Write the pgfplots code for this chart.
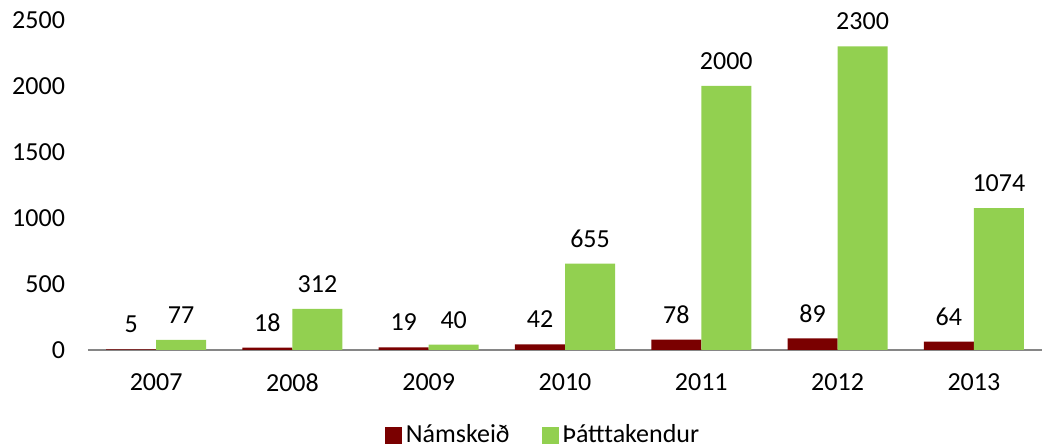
\documentclass[border=0pt]{standalone}
\usepackage{pgfplots}
\pgfplotsset{compat=1.18}
\usepackage{fontspec}
\setmainfont{Carlito}
\definecolor{cRed}{HTML}{7A0000}
\definecolor{cGreen}{HTML}{92D050}
\definecolor{cAxis}{HTML}{868686}
\begin{document}
\fontsize{13pt}{15pt}\selectfont
\begin{tikzpicture}
\useasboundingbox (-44pt,-49pt) rectangle (477pt,175pt);
\begin{axis}[
  at={(0,0)}, anchor=south west,
  scale only axis,
  width=477pt, height=165pt,
  xmin=-0.5, xmax=6.5,
  ymin=0, ymax=2500,
  ytick={0,500,...,2500},
  xtick={0,...,6},
  xticklabels={2007,2008,2009,2010,2011,2012,2013},
  axis x line*=bottom,
  axis y line*=left,
  axis line style={-},
  x axis line style={draw=cAxis, line width=1pt},
  y axis line style={draw=none},
  tick style={draw=none},
  /pgf/number format/assume math mode=true,
  /pgf/number format/1000 sep={},
  yticklabel style={anchor=east, xshift=-7pt},
  xticklabel style={anchor=center, yshift=-12pt},
  ybar, bar width=0.367,
  nodes near coords,
  nodes near coords style={anchor=center, yshift=12.5pt, font=\fontsize{13pt}{15pt}\selectfont},
  every node near coord/.append style={/pgf/number format/1000 sep={}, /pgf/number format/assume math mode=true},
  legend style={at={(0.478,-0.2576)}, anchor=center, draw=none, legend columns=2,
    /tikz/every even column/.append style={column sep=14pt}, font=\fontsize{13pt}{15pt}\selectfont},
  legend cell align=left,
]
\addplot[fill=cRed, draw=none, bar shift=-0.1835, legend image code/.code={\fill[cRed] (0pt,-4.25pt) rectangle (8.5pt,4.25pt);}] coordinates {(0,5) (1,18) (2,19) (3,42) (4,78) (5,89) (6,64)};
\addlegendentry{Námskeið}
\addplot[fill=cGreen, draw=none, bar shift=0.1835, legend image code/.code={\fill[cGreen] (0pt,-4.25pt) rectangle (8.5pt,4.25pt);}] coordinates {(0,77) (1,312) (2,40) (3,655) (4,2000) (5,2300) (6,1074)};
\addlegendentry{Þátttakendur}
\end{axis}
\end{tikzpicture}
\end{document}
